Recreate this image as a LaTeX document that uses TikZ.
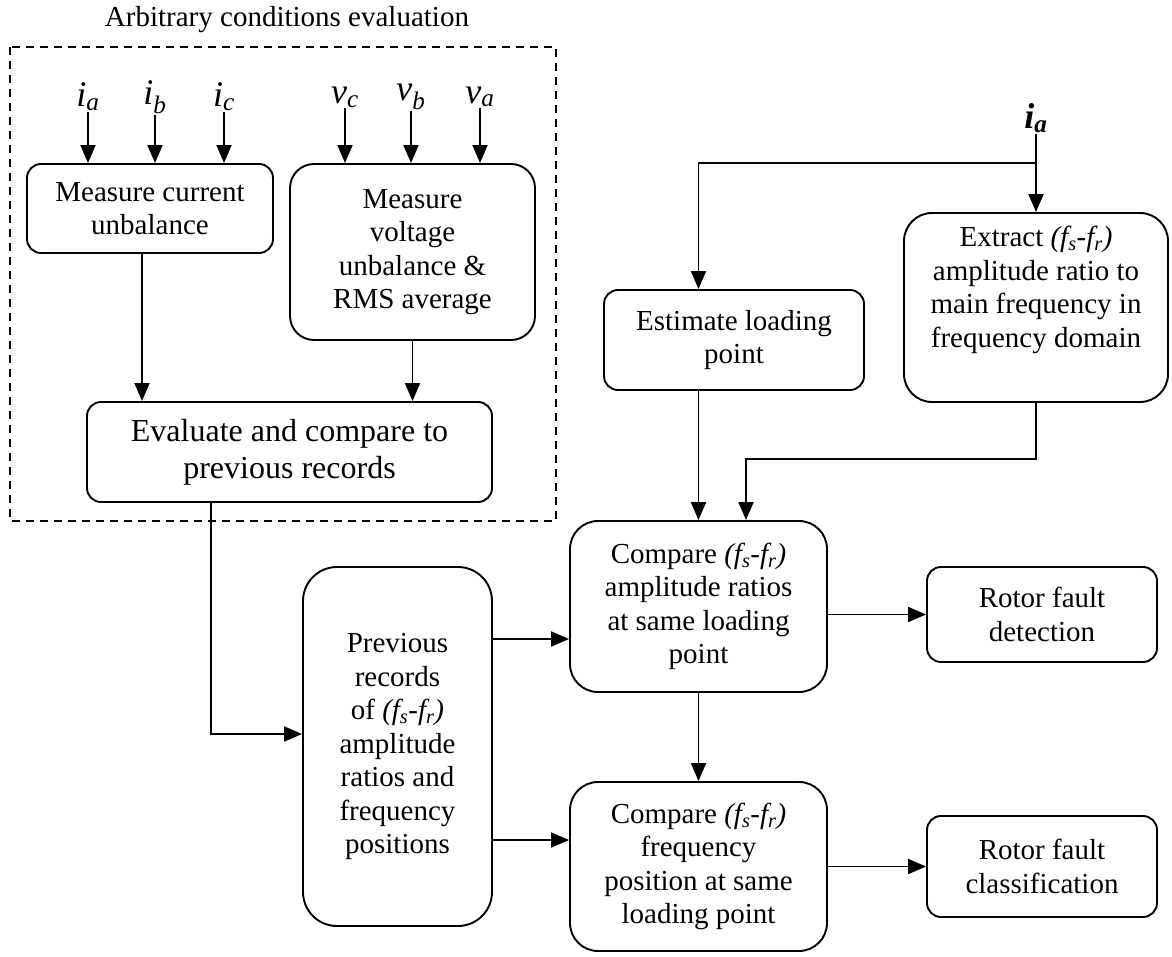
\documentclass[tikz,border=0pt]{standalone}
\usepackage{fontspec}
\setmainfont{Liberation Serif}
\usetikzlibrary{arrows.meta}

\newcommand{\fsfr}{\textit{(f\textsubscript{s}-f\textsubscript{r})}}
\newcommand{\sig}[2]{\textit{#1\textsubscript{#2}}}

\begin{document}
\begin{tikzpicture}[x=1pt, y=-1pt,
        font=\fontsize{29}{33.5}\selectfont,
        box/.style={draw, line width=1.9pt, rounded corners=14pt, align=center, inner sep=0pt},
        bigbox/.style={box, rounded corners=28pt},
        sigin/.style={font=\fontsize{36}{36}\selectfont, inner sep=1pt},
        arr/.style={line width=1.9pt, -{Triangle[length=18pt,width=15pt]}}]

                \useasboundingbox (0,0) rectangle (1172,957);

% title and dashed frame
                \node at (287,20) (title) {Arbitrary conditions evaluation};
                \draw [dash pattern=on 8pt off 6pt, line width=1.6pt] (10,47) rectangle (556,521);
                %
                % phase currents and voltages
                \node at (88,97) (ia) [sigin] {\sig{i}{a}};
                \node at (155,97) (ib) [sigin] {\sig{i}{b}};
                \node at (224,97) (ic) [sigin] {\sig{i}{c}};
                \node at (345,97) (vc) [sigin] {\sig{v}{c}};
                \node at (411,97) (vb) [sigin] {\sig{v}{b}};
                \node at (480,97) (va) [sigin] {\sig{v}{a}};
                %
                \node at (150,208.5) (cur) [box, minimum width=246pt, minimum height=89pt] {Measure current\\unbalance};
                \node at (412.5,252) (volt) [box, rounded corners=24pt, minimum width=245pt, minimum height=176pt] {Measure\\voltage\\unbalance \&\\RMS average};
                \node at (289.5,452) (eval) [box, font=\fontsize{32}{37}\selectfont, minimum width=405pt, minimum height=100pt] {Evaluate and compare to\\previous records};
                %
                \draw [arr] (ia) -- (ia |- cur.north);
                \draw [arr] (ib) -- (ib |- cur.north);
                \draw [arr] (ic) -- (ic |- cur.north);
                \draw [arr] (vc) -- (vc |- volt.north);
                \draw [arr] (vb) -- (vb |- volt.north);
                \draw [arr] (va) -- (va |- volt.north);
                \draw [arr] ([xshift=-8pt]cur.south) -- ([xshift=-8pt]cur.south |- eval.north);
                \draw [arr] (volt) -- (volt |- eval.north);
                %
                % stator current branch
                \node at (1036,118) (iamain) [sigin] {\textbf{\sig{i}{a}}};
                \node at (734,340) (est) [box, minimum width=260pt, minimum height=100pt] {Estimate loading\\point};
                \node at (1036,307.5) (ext) [bigbox, minimum width=264pt, minimum height=189pt] {Extract \fsfr\\amplitude ratio to\\main frequency in\\frequency domain\\[8pt]};
                %
                \node at (397.5,746.5) (prev) [bigbox, rounded corners=34pt, minimum width=189pt, minimum height=359pt] {Previous\\records\\of \fsfr\\amplitude\\ratios and\\frequency\\positions};
                \node at (698.5,606.5) (cmp1) [bigbox, minimum width=257pt, minimum height=171pt] {Compare \fsfr\\amplitude ratios\\at same loading\\point};
                \node at (698.5,866.5) (cmp2) [bigbox, minimum width=257pt, minimum height=169pt] {Compare \fsfr\\frequency\\position at same\\loading point};
                \node at (1042,614.5) (det) [box, minimum width=230pt, minimum height=95pt] {Rotor fault\\detection};
                \node at (1042,866.5) (cls) [box, minimum width=230pt, minimum height=101pt] {Rotor fault\\classification};
                %
                \coordinate (split) at (1036,163);
                \coordinate (feed) at (746,459);
                \coordinate (evbend) at (211,734);
                \coordinate (row1) at (0,639);
                \coordinate (row2) at (0,840);
                %
                \draw [arr] (iamain) -- (iamain |- ext.north);
                \draw [arr] (split) -| (cmp1.north |- est.north);
                \draw [arr] (cmp1.north |- est.south) -- (cmp1.north);
                \draw [arr] (ext.south) |- (feed) -- (feed |- cmp1.north);
                %
                % records and comparisons
                \draw [arr] (eval.south -| evbend) |- (prev.west |- evbend);
                \draw [arr] (prev.east |- row1) -- (cmp1.west |- row1);
                \draw [arr] (prev.east |- row2) -- (cmp2.west |- row2);
                \draw [arr] (cmp1) -- (cmp2);
                \draw [arr] (cmp1.east |- det.west) -- (det.west);
                \draw [arr] (cmp2.east |- cls.west) -- (cls.west);
\end{tikzpicture}
\end{document}
